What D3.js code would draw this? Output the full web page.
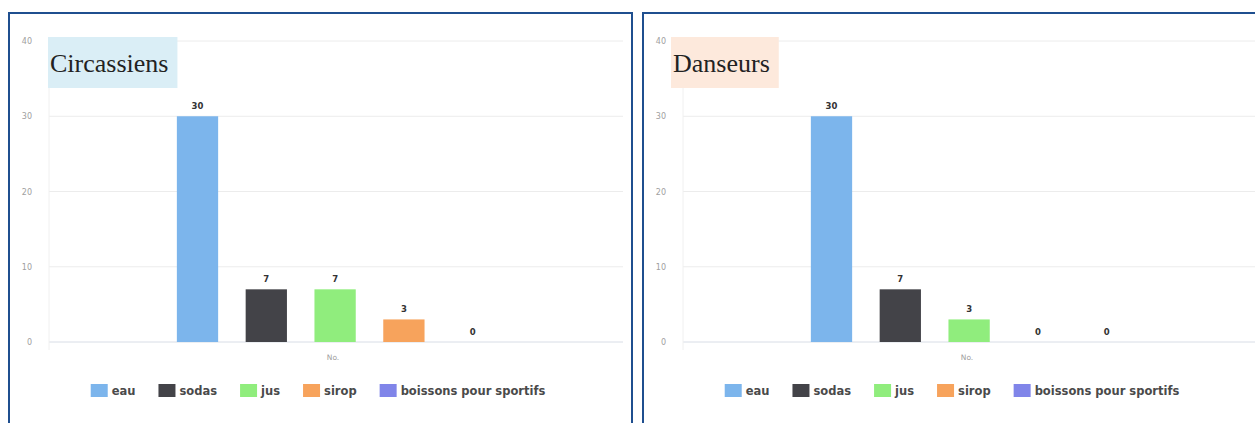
<!DOCTYPE html>
<html><head><meta charset="utf-8">
<script src="https://cdn.jsdelivr.net/npm/d3@7"></script>
<style>html,body{margin:0;padding:0;background:#fff;}svg{display:block;}</style>
</head><body>
<svg id="chart" width="1255" height="423"></svg>
<script>
const categories = ["eau", "sodas", "jus", "sirop", "boissons pour sportifs"];
const colors = ["#7cb5ec", "#434348", "#90ed7d", "#f7a35c", "#8085e9"];
const circassiens = [30, 7, 7, 3, 0];
const danseurs = [30, 7, 3, 0, 0];
const yTicks = [0, 10, 20, 30, 40];
const panelTitles = ["Circassiens", "Danseurs"];
const titleColors = ["#daeef6", "#fde9dc"];
const xAxisLabel = "No.";

const panels = [
  {title: panelTitles[0], bg: titleColors[0], values: circassiens, ox: 0, boxX: 48},
  {title: panelTitles[1], bg: titleColors[1], values: danseurs, ox: 634, boxX: 671}
];

const svg = d3.select("#chart");

panels.forEach(p => {
  const g = svg.append("g").attr("transform", `translate(${p.ox},0)`);
  // frame
  g.append("path")
    .attr("d", "M9,440 V13 H632 V440")
    .attr("fill", "none").attr("stroke", "#1f4f8f").attr("stroke-width", 2);

  const plotL = 49, plotR = 623;
  const y = d3.scaleLinear().domain([0, 40]).range([342, 41]);
  const x = d3.scaleBand().domain(categories).range([163.1, 507.1])
    .paddingInner(0.4).paddingOuter(0.2);

  // grid
  g.selectAll(".grid").data(yTicks).enter().append("line")
    .attr("x1", plotL).attr("x2", plotR)
    .attr("y1", d => y(d)).attr("y2", d => y(d))
    .attr("stroke", d => d === 0 ? "#d8dde6" : "#ececec").attr("stroke-width", 1);
  g.append("line").attr("x1", plotL).attr("x2", plotL).attr("y1", y(40)).attr("y2", 350)
    .attr("stroke", "#f0f0f0");

  // y tick labels
  const yAxis = d3.axisLeft(y).tickValues(yTicks).tickSize(0).tickPadding(0);
  const ya = g.append("g").attr("transform", "translate(32,0)").call(yAxis);
  ya.select(".domain").remove();
  ya.selectAll("text").attr("fill", "#a0a0a0").attr("font-size", 8)
    .attr("font-family", "DejaVu Sans, sans-serif");

  // bars
  g.selectAll(".bar").data(categories).enter().append("rect")
    .attr("x", d => x(d)).attr("width", x.bandwidth())
    .attr("y", (d, i) => y(p.values[i]))
    .attr("height", (d, i) => y(0) - y(p.values[i]))
    .attr("fill", (d, i) => colors[i]);

  // value labels
  g.selectAll(".val").data(categories).enter().append("text")
    .attr("x", d => x(d) + x.bandwidth() / 2)
    .attr("y", (d, i) => y(p.values[i]) - 7)
    .attr("text-anchor", "middle")
    .attr("font-family", "DejaVu Sans, sans-serif").attr("font-weight", "bold")
    .attr("font-size", 8.5).attr("fill", "#333")
    .text((d, i) => p.values[i]);

  // x axis label
  g.append("text").attr("x", (plotL + plotR) / 2 - 3).attr("y", 360)
    .attr("text-anchor", "middle").attr("font-family", "DejaVu Sans, sans-serif")
    .attr("font-size", 7.5).attr("fill", "#a0a0a0").text(xAxisLabel);

  // legend
  const lg = g.append("g");
  let cx = 0;
  const items = [];
  categories.forEach((c, i) => {
    const it = lg.append("g");
    it.append("rect").attr("x", 0).attr("y", 384).attr("width", 17).attr("height", 13)
      .attr("fill", colors[i]);
    const t = it.append("text").attr("x", 21).attr("y", 395)
      .attr("font-family", "DejaVu Sans, sans-serif").attr("font-weight", "bold")
      .attr("font-size", 11.5).attr("fill", "#4a4a4a").text(c);
    const w = 21 + t.node().getComputedTextLength();
    it.attr("transform", `translate(${cx},0)`);
    cx += w + 23;
  });
  const total = cx - 23;
  lg.attr("transform", `translate(${320 - total / 2 - 2},0)`);

  // title box
  const tg = svg.append("g");
  const tt = tg.append("text").attr("x", p.boxX + 2).attr("y", 72)
    .attr("font-family", "Liberation Serif, Times New Roman, serif")
    .attr("font-size", 26).attr("fill", "#222").text(p.title);
  const tw = tt.node().getComputedTextLength();
  tg.insert("rect", "text").attr("x", p.boxX).attr("y", 37)
    .attr("width", tw + 11).attr("height", 51).attr("fill", p.bg);
});
</script>
</body></html>
